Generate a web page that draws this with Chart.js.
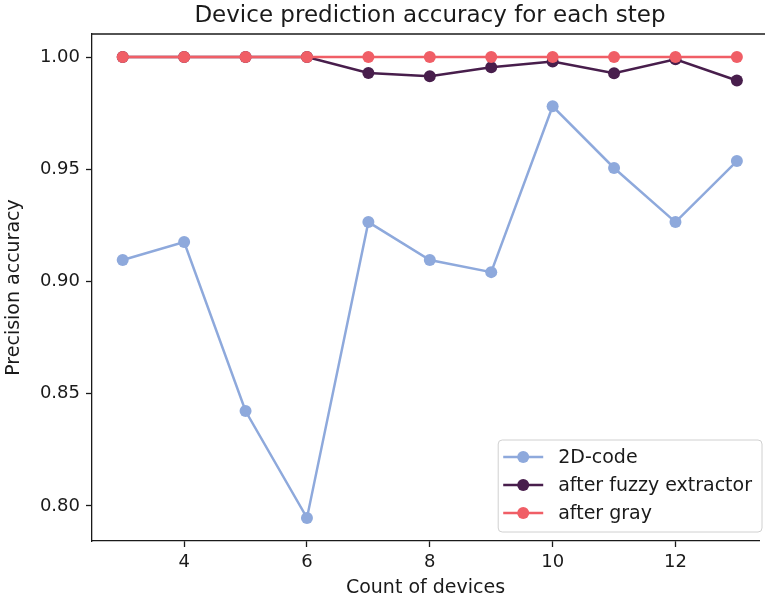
<!DOCTYPE html>
<html>
<head>
<meta charset="utf-8">
<script src="https://cdn.jsdelivr.net/npm/chart.js@4.4.0/dist/chart.umd.min.js"></script>
<style>
  html, body { margin: 0; padding: 0; background: #fff; }
  #wrap { width: 765px; height: 603px; position: relative; }
</style>
</head>
<body>
<div id="wrap"><canvas id="chart"></canvas></div>
<script>
// datos
const counts = [3, 4, 5, 6, 7, 8, 9, 10, 11, 12, 13];
const code2d = [0.9096, 0.9176, 0.8423, 0.7947, 0.9265, 0.9096, 0.9042, 0.9781, 0.9506, 0.9265, 0.9537];
const fuzzy = [1.0, 1.0, 1.0, 1.0, 0.9929, 0.9915, 0.9955, 0.9980, 0.9928, 0.9990, 0.9896];
const gray = [1.0, 1.0, 1.0, 1.0, 1.0, 1.0, 1.0, 1.0, 1.0, 1.0, 1.0];
const xTicks = [4, 6, 8, 10, 12];
const yTicks = [0.80, 0.85, 0.90, 0.95, 1.00];

const FONT = 'DejaVu Sans';
const INK = '#1a1a1a';

function pts(arr) {
  return counts.map((c, i) => ({ x: c, y: arr[i] }));
}

function serie(label, arr, color, order) {
  return {
    label: label,
    data: pts(arr),
    borderColor: color,
    backgroundColor: color,
    pointBackgroundColor: color,
    pointBorderWidth: 0,
    pointRadius: 6,
    pointHoverRadius: 6,
    borderWidth: 2.5,
    tension: 0,
    order: order
  };
}

// titulo y marco superior
const frame = {
  id: 'frame',
  afterDraw(chart) {
    const a = chart.chartArea;
    const c = chart.ctx;
    c.save();
    c.strokeStyle = INK;
    c.lineWidth = 1.3;
    c.beginPath();
    c.moveTo(a.left, a.top);
    c.lineTo(chart.width, a.top);
    c.stroke();
    c.fillStyle = INK;
    c.font = '23px "' + FONT + '"';
    c.textAlign = 'center';
    c.textBaseline = 'middle';
    c.fillText('Device prediction accuracy for each step', 430, 16);
    c.restore();
  }
};

// leyenda abajo a la derecha dentro del grafico
const legendBox = {
  id: 'legendBox',
  afterDraw(chart) {
    const a = chart.chartArea;
    const c = chart.ctx;
    const sets = chart.data.datasets;
    c.save();
    c.font = '19px "' + FONT + '"';
    let maxW = 0;
    sets.forEach(d => { maxW = Math.max(maxW, c.measureText(d.label).width); });
    const rowH = 28;
    const w = 60 + maxW + 10;
    const h = rowH * sets.length + 8;
    const right = 762;
    const bottom = a.bottom - 9;
    const x0 = right - w;
    const y0 = bottom - h;
    c.beginPath();
    c.roundRect(x0, y0, w, h, 4);
    c.fillStyle = 'rgba(255,255,255,0.8)';
    c.fill();
    c.strokeStyle = '#d0d0d0';
    c.lineWidth = 1;
    c.stroke();
    sets.forEach((d, i) => {
      const y = y0 + 17 + i * rowH;
      c.strokeStyle = d.borderColor;
      c.lineWidth = 2.5;
      c.beginPath();
      c.moveTo(x0 + 5, y);
      c.lineTo(x0 + 45, y);
      c.stroke();
      c.fillStyle = d.borderColor;
      c.beginPath();
      c.arc(x0 + 25, y, 6, 0, Math.PI * 2);
      c.fill();
      c.fillStyle = INK;
      c.textAlign = 'left';
      c.textBaseline = 'middle';
      c.fillText(d.label, x0 + 60, y + 1);
    });
    c.restore();
  }
};

const ctx = document.getElementById('chart');

new Chart(ctx, {
  type: 'line',
  data: {
    datasets: [
      serie('2D-code', code2d, 'rgb(142,169,220)', 3),
      serie('after fuzzy extractor', fuzzy, 'rgb(72,30,76)', 2),
      serie('after gray', gray, 'rgb(240,94,102)', 1)
    ]
  },
  options: {
    responsive: true,
    maintainAspectRatio: false,
    animation: false,
    layout: { padding: { top: 34, right: 0, left: 0, bottom: 0 } },
    plugins: {
      legend: { display: false },
      tooltip: { enabled: false }
    },
    scales: {
      x: {
        type: 'linear',
        min: 2.5,
        max: 13.36,
        afterBuildTicks: s => { s.ticks = xTicks.map(v => ({ value: v })); },
        afterFit: s => { s.height = 62; },
        grid: { drawOnChartArea: false, drawTicks: true, tickLength: 6, tickColor: INK, tickWidth: 1.3 },
        border: { color: INK, width: 1.3 },
        ticks: { color: INK, padding: 5, maxRotation: 0, font: { family: FONT, size: 18 } },
        title: { display: true, text: 'Count of devices', color: INK, padding: { top: 0, bottom: 4 }, font: { family: FONT, size: 19 } }
      },
      y: {
        min: 0.7844,
        max: 1.0103,
        afterBuildTicks: s => { s.ticks = yTicks.map(v => ({ value: v })); },
        afterFit: s => { s.width = 92; },
        grid: { drawOnChartArea: false, drawTicks: true, tickLength: 6, tickColor: INK, tickWidth: 1.3 },
        border: { color: INK, width: 1.3 },
        ticks: { color: INK, padding: 6, font: { family: FONT, size: 18 }, callback: v => v.toFixed(2) },
        title: { display: true, text: 'Precision accuracy', color: INK, padding: { top: 3, bottom: 0 }, font: { family: FONT, size: 19 } }
      }
    }
  },
  plugins: [frame, legendBox]
});
</script>
</body>
</html>
